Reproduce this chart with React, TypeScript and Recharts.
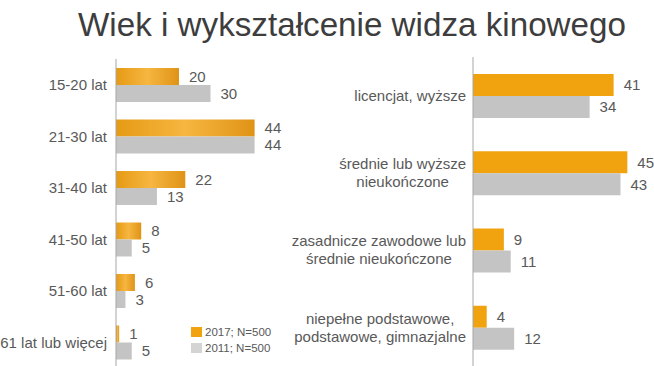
import { BarChart, Bar, XAxis, YAxis, LabelList } from 'recharts'

const FONT = '"Liberation Sans", Arial, sans-serif'
const TEXT = '#595959'

const AGE_GROUPS = ['15-20 lat', '21-30 lat', '31-40 lat', '41-50 lat', '51-60 lat', '61 lat lub więcej']
const AGE_2017 = [20, 44, 22, 8, 6, 1]
const AGE_2011 = [30, 44, 13, 5, 3, 5]

const EDUCATION = [
  'licencjat, wyższe',
  'średnie lub wyższe\nnieukończone',
  'zasadnicze zawodowe lub\nśrednie nieukończone',
  'niepełne podstawowe,\npodstawowe, gimnazjalne',
]
const EDU_2017 = [41, 45, 9, 4]
const EDU_2011 = [34, 43, 11, 12]

const SERIES = ['2017; N=500', '2011; N=500']

const ageData = AGE_GROUPS.map((name, i) => ({ name, y2017: AGE_2017[i], y2011: AGE_2011[i] }))
const eduData = EDUCATION.map((name, i) => ({ name, y2017: EDU_2017[i], y2011: EDU_2011[i] }))

let ctx: CanvasRenderingContext2D | null = null
function textWidth(s: string) {
  if (!ctx) ctx = document.createElement('canvas').getContext('2d')
  if (!ctx) return s.length * 8
  ctx.font = `15px ${FONT}`
  return ctx.measureText(s).width
}

// multi-line labels are centred as a block, the block is right-aligned to the axis
function CategoryTick(props: any) {
  const { y, payload, right } = props
  const lines: string[] = String(payload.value).split('\n')
  const w = Math.max(...lines.map(textWidth))
  const cx = right - w / 2
  const lh = 18
  const top = y - ((lines.length - 1) * lh) / 2
  return (
    <g>
      {lines.map((l, i) => (
        <text
          key={i}
          x={cx}
          y={top + i * lh}
          dy="0.35em"
          textAnchor="middle"
          fill={TEXT}
          fontSize={15}
          fontFamily={FONT}
        >
          {l}
        </text>
      ))}
    </g>
  )
}

const labelStyle = { fill: TEXT, fontSize: 15, fontFamily: FONT }

export default function App() {
  return (
    <div style={{ position: 'fixed', left: 0, top: 0, width: 654, height: 366, background: '#fff', overflow: 'hidden' }}>
      <svg width={654} height={50} style={{ position: 'absolute', left: 0, top: 0 }}>
        <text
          x={78}
          y={36}
          fontSize={33}
          fontFamily={FONT}
          fill="#3d3d3d"
          textLength={548}
          lengthAdjust="spacingAndGlyphs"
        >
          Wiek i wykształcenie widza kinowego
        </text>
      </svg>

      <div style={{ position: 'absolute', left: 0, top: 0 }}>
        <BarChart
          width={290}
          height={368}
          data={ageData}
          layout="vertical"
          margin={{ top: 59, right: 16.5, bottom: 0, left: 0 }}
          barGap={0}
          barSize={17}
        >
          <defs>
            <linearGradient id="orangeGrad" x1="0" y1="0" x2="1" y2="0">
              <stop offset="0%" stopColor="#e69a14" />
              <stop offset="50%" stopColor="#f6b640" />
              <stop offset="100%" stopColor="#df9316" />
            </linearGradient>
          </defs>
          <XAxis type="number" domain={[0, 50]} hide />
          <YAxis
            type="category"
            dataKey="name"
            width={116}
            tickLine={false}
            axisLine={{ stroke: '#a6a6a6' }}
            tick={(p: any) => <CategoryTick {...p} right={107} />}
          />
          <Bar dataKey="y2017" fill="url(#orangeGrad)" isAnimationActive={false}>
            <LabelList dataKey="y2017" position="right" offset={10} style={labelStyle} />
          </Bar>
          <Bar dataKey="y2011" fill="#c4c4c4" isAnimationActive={false}>
            <LabelList dataKey="y2011" position="right" offset={10} style={labelStyle} />
          </Bar>
        </BarChart>
      </div>

      <div style={{ position: 'absolute', left: 280, top: 0 }}>
        <BarChart
          width={374}
          height={366}
          data={eduData}
          layout="vertical"
          margin={{ top: 57, right: 9.5, bottom: 0, left: 0 }}
          barGap={0}
          barSize={22}
        >
          <XAxis type="number" domain={[0, 50]} hide />
          <YAxis
            type="category"
            dataKey="name"
            width={193}
            tickLine={false}
            axisLine={{ stroke: '#a6a6a6' }}
            tick={(p: any) => <CategoryTick {...p} right={186} />}
          />
          <Bar dataKey="y2017" fill="#f0a30f" isAnimationActive={false}>
            <LabelList dataKey="y2017" position="right" offset={10} style={labelStyle} />
          </Bar>
          <Bar dataKey="y2011" fill="#c4c4c4" isAnimationActive={false}>
            <LabelList dataKey="y2011" position="right" offset={10} style={labelStyle} />
          </Bar>
        </BarChart>
      </div>

      <div style={{ position: 'absolute', left: 191, top: 324, fontFamily: FONT, fontSize: 11.5, color: TEXT }}>
        {SERIES.map((s, i) => (
          <div key={s} style={{ display: 'flex', alignItems: 'center', height: 16 }}>
            <span
              style={{
                width: 11,
                height: 10,
                marginRight: 3,
                background: i === 0 ? '#f0a30f' : '#d4d4d4',
                display: 'inline-block',
              }}
            />
            {s}
          </div>
        ))}
      </div>
    </div>
  )
}
